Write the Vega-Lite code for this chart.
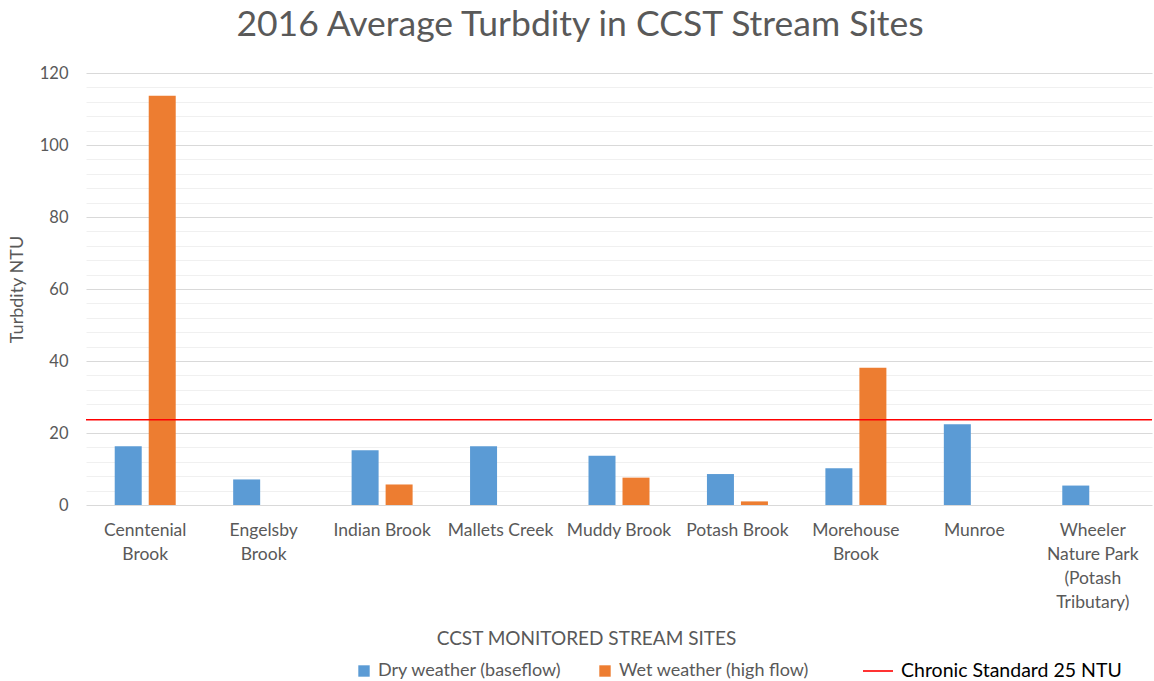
{
  "$schema": "https://vega.github.io/schema/vega-lite/v6.json",
  "autosize": {"type": "none"},
  "width": 1066,
  "height": 432,
  "padding": {"left": 86, "top": 73, "right": 2, "bottom": 176},
  "background": "white",
  "config": {
    "view": {"stroke": null},
    "font": "Lato",
    "axis": {"labelFont": "Lato", "titleFont": "Lato", "labelColor": "#595959", "titleColor": "#595959", "titleFontWeight": "normal"}
  },
  "title": {
    "text": "2016 Average Turbdity in CCST Stream Sites",
    "font": "Lato",
    "fontSize": 35.5,
    "fontWeight": "normal",
    "color": "#595959",
    "anchor": "middle",
    "dx": -39,
    "offset": 22
  },
  "datasets": {
    "bars": [
      {"site": "Cenntenial Brook", "series": "Dry weather (baseflow)", "ntu": 16.3},
      {"site": "Cenntenial Brook", "series": "Wet weather (high flow)", "ntu": 113.7},
      {"site": "Engelsby Brook", "series": "Dry weather (baseflow)", "ntu": 7.1},
      {"site": "Indian Brook", "series": "Dry weather (baseflow)", "ntu": 15.2},
      {"site": "Indian Brook", "series": "Wet weather (high flow)", "ntu": 5.7},
      {"site": "Mallets Creek", "series": "Dry weather (baseflow)", "ntu": 16.3},
      {"site": "Muddy Brook", "series": "Dry weather (baseflow)", "ntu": 13.7},
      {"site": "Muddy Brook", "series": "Wet weather (high flow)", "ntu": 7.6},
      {"site": "Potash Brook", "series": "Dry weather (baseflow)", "ntu": 8.6},
      {"site": "Potash Brook", "series": "Wet weather (high flow)", "ntu": 1.0},
      {"site": "Morehouse Brook", "series": "Dry weather (baseflow)", "ntu": 10.2},
      {"site": "Morehouse Brook", "series": "Wet weather (high flow)", "ntu": 38.1},
      {"site": "Munroe", "series": "Dry weather (baseflow)", "ntu": 22.4},
      {"site": "Wheeler Nature Park (Potash Tributary)", "series": "Dry weather (baseflow)", "ntu": 5.4}
    ],
    "standard": [
      {"name": "Chronic Standard 25 NTU", "ntu": 23.7}
    ]
  },
  "layer": [
    {
      "data": {"name": "bars"},
      "mark": {"type": "bar"},
      "encoding": {
        "x": {
          "field": "site",
          "type": "nominal",
          "sort": null,
          "scale": {"paddingInner": 0.485, "paddingOuter": 0.2425},
          "axis": {
            "title": "CCST MONITORED STREAM SITES",
            "titleFontSize": 19,
            "titleX": 500,
            "titleY": 133,
            "titleBaseline": "middle",
            "labelAngle": 0,
            "labelFontSize": 17.5,
            "labelLineHeight": 24,
            "labelPadding": 16,
            "labelLimit": 200,
            "ticks": false,
            "domain": false,
            "labelExpr": "datum.label == 'Cenntenial Brook' ? ['Cenntenial', 'Brook'] : datum.label == 'Engelsby Brook' ? ['Engelsby', 'Brook'] : datum.label == 'Morehouse Brook' ? ['Morehouse', 'Brook'] : datum.label == 'Wheeler Nature Park (Potash Tributary)' ? ['Wheeler', 'Nature Park', '(Potash', 'Tributary)'] : datum.label"
          }
        },
        "xOffset": {
          "field": "series",
          "type": "nominal",
          "scale": {"domain": ["Dry weather (baseflow)", "Wet weather (high flow)"], "paddingInner": 0.206, "paddingOuter": 0}
        },
        "y": {
          "field": "ntu",
          "type": "quantitative",
          "scale": {"domain": [0, 120], "nice": false},
          "axis": {
            "title": "Turbdity NTU",
            "titleFontSize": 18,
            "titlePadding": 13,
            "values": [0, 20, 40, 60, 80, 100, 120],
            "labelFontSize": 16.5,
            "labelPadding": 18,
            "ticks": false,
            "domain": false,
            "grid": true,
            "gridColor": "#D9D9D9",
            "gridWidth": 1
          }
        },
        "fill": {
          "field": "series",
          "type": "nominal",
          "scale": {"domain": ["Dry weather (baseflow)", "Wet weather (high flow)"], "range": ["#5B9BD5", "#ED7D31"]},
          "legend": {
            "title": null,
            "orient": "none",
            "padding": 0,
            "legendX": 269,
            "legendY": 589,
            "direction": "horizontal",
            "symbolType": "square",
            "symbolSize": 130,
            "symbolStrokeWidth": 0,
            "labelFont": "Lato",
            "labelFontSize": 18,
            "labelColor": "#595959",
            "labelOffset": 5,
            "labelLimit": 400,
            "columnPadding": 34
          }
        }
      }
    },
    {
      "data": {"name": "standard"},
      "mark": {"type": "rule", "strokeWidth": 1.5},
      "encoding": {
        "y": {
          "field": "ntu",
          "type": "quantitative",
          "axis": {
            "orient": "right",
            "title": null,
            "values": [4, 8, 12, 16, 24, 28, 32, 36, 44, 48, 52, 56, 64, 68, 72, 76, 84, 88, 92, 96, 104, 108, 112, 116],
            "labels": false,
            "ticks": false,
            "domain": false,
            "grid": true,
            "gridColor": "#F0F0F0",
            "gridWidth": 1
          }
        },
        "stroke": {
          "field": "name",
          "type": "nominal",
          "scale": {"range": ["#FF0000"]},
          "legend": {
            "title": null,
            "orient": "none",
            "padding": 0,
            "legendX": 776,
            "legendY": 582,
            "symbolType": "stroke",
            "symbolSize": 900,
            "symbolStrokeColor": "#FF0000",
            "symbolStrokeWidth": 1.6,
            "symbolOpacity": 1,
            "labelFont": "Lato",
            "labelFontSize": 19.5,
            "labelColor": "#000000",
            "labelOffset": 7,
            "labelLimit": 400
          }
        }
      }
    }
  ],
  "resolve": {"axis": {"y": "independent"}}
}
